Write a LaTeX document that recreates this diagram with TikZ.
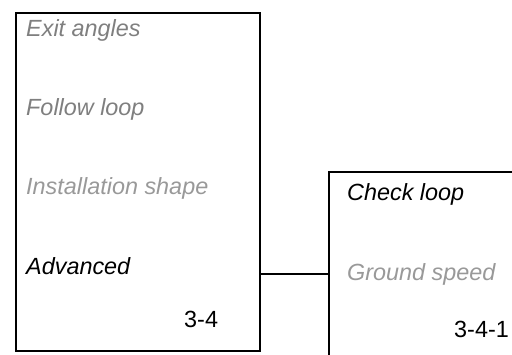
\documentclass[tikz,border=0pt]{standalone}
\usepackage{fontspec}
\setmainfont{Liberation Sans}
\usepackage{xcolor}
\usepackage{tikz}
\usetikzlibrary{calc,positioning}
\definecolor{inkc}{HTML}{000000}
\definecolor{dimc}{HTML}{7F7F7F}
\definecolor{palec}{HTML}{999999}
\tikzset{
  frame/.style={draw=inkc,line width=1.6pt},
  item/.style={anchor=base west,inner sep=0pt,font=\fontsize{23.4}{28}\selectfont\itshape},
  tag/.style={anchor=base west,inner sep=0pt,font=\fontsize{23.4}{28}\selectfont}
}
\begin{document}
\begin{tikzpicture}[x=1pt,y=-1pt]
\useasboundingbox (0,0) rectangle (512,354);
\node[frame,minimum width=244pt,minimum height=338pt,anchor=north west] (menu) at (15,12) {};
\node[minimum width=190pt,minimum height=190pt,anchor=north west,inner sep=0pt] (sub) at (329,172) {};
\draw[frame] (sub.south west)--(sub.north west)--(sub.north east);
\node[item,dimc] (exit) at (26,36) {Exit angles};
\node[item,dimc] (follow) at (26,115) {Follow loop};
\node[item,palec] (install) at (26,194) {Installation shape};
\node[item,inkc] (adv) at (26,274) {Advanced};
\node[tag] (num) at (184,327) {3-4};
\node[item,inkc] (check) at (347,200) {Check loop};
\node[item,palec] (ground) at (347,280) {Ground speed};
\node[tag] (subnum) at (454,337) {3-4-1};
\coordinate (link) at (0,274);
\draw[frame] (menu.east |- link)--(sub.west |- link);
\end{tikzpicture}
\end{document}
